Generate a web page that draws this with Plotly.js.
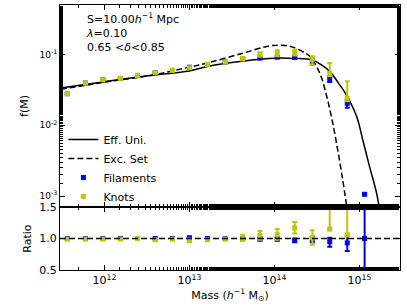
<!DOCTYPE html>
<html><head><meta charset="utf-8">
<script src="https://cdn.plot.ly/plotly-3.0.1.min.js"></script>
<style>html,body{margin:0;padding:0;background:#fff}#chart{width:407px;height:308px}</style>
</head><body><div id="chart"></div>
<script>
// Binned halo masses (h^-1 Msun)
const mass = [3.66e11, 5.98e11, 9.55e11, 1.54e12, 2.45e12, 3.96e12, 6.32e12, 1.0e13, 1.63e13, 2.64e13, 4.23e13, 6.75e13, 1.08e14, 1.73e14, 2.79e14, 4.47e14, 7.19e14, 1.15e15];
// Knots f(M)
const knotF     = [0.0279, 0.0394, 0.0440, 0.0459, 0.0506, 0.0552, 0.0596, 0.0649, 0.0723, 0.0780, 0.0870, 0.1000, 0.1050, 0.1070, 0.0850, 0.0540, 0.0240, null];
const knotErrUp = [0.0008, 0.0010, 0.0010, 0.0010, 0.0012, 0.0013, 0.0015, 0.0018, 0.0020, 0.0025, 0.0040, 0.0077, 0.0100, 0.0106, 0.0096, 0.0220, 0.0180, null];
const knotErrDn = [0.0008, 0.0010, 0.0010, 0.0010, 0.0012, 0.0013, 0.0015, 0.0018, 0.0020, 0.0025, 0.0040, 0.0072, 0.0104, 0.0102, 0.0127, 0.0042, 0.0022, null];
// Filaments f(M)
const filF      = [0.0279, 0.0394, 0.0440, 0.0459, 0.0506, 0.0552, 0.0596, 0.0660, 0.0723, 0.0780, 0.0865, 0.0887, 0.0916, 0.0907, 0.0797, 0.0452, 0.0204, 0.00106];
const filErrUp  = [0.0005, 0.0006, 0.0006, 0.0006, 0.0007, 0.0008, 0.0009, 0.0012, 0.0012, 0.0014, 0.0016, 0.0020, 0.0022, 0.0025, 0.0073, 0.0043, 0.0028, 0.00004];
const filErrDn  = [0.0005, 0.0006, 0.0006, 0.0006, 0.0007, 0.0008, 0.0009, 0.0012, 0.0012, 0.0014, 0.0016, 0.0020, 0.0022, 0.0025, 0.0074, 0.0044, 0.0027, 0.00004];
// Ratio panel
const knotRatio   = [0.99, 0.99, 0.99, 0.99, 1.00, 0.98, 0.99, 0.97, 0.98, 0.99, 1.01, 1.05, 1.06, 1.17, 1.01, 1.15, 1.06, null];
const knotRatioUp = [0.01, 0.01, 0.01, 0.01, 0.01, 0.012, 0.012, 0.03, 0.015, 0.02, 0.05, 0.07, 0.09, 0.09, 0.12, 0.60, 0.60, null];
const knotRatioDn = [0.01, 0.01, 0.01, 0.01, 0.01, 0.012, 0.012, 0.03, 0.015, 0.02, 0.05, 0.07, 0.08, 0.09, 0.11, 0.02, 0.02, null];
const filRatio    = [1.00, 1.00, 1.00, 1.00, 1.00, 1.00, 1.00, 1.01, 1.00, 1.00, 1.00, 0.99, 0.99, 0.97, 0.99, 0.95, 0.93, 1.00];
const filRatioUp  = [0.005, 0.005, 0.005, 0.005, 0.005, 0.006, 0.008, 0.02, 0.01, 0.015, 0.01, 0.02, 0.02, 0.03, 0.04, 0.06, 0.11, 0.80];
const filRatioDn  = [0.005, 0.005, 0.005, 0.005, 0.005, 0.006, 0.008, 0.02, 0.01, 0.015, 0.01, 0.02, 0.02, 0.03, 0.05, 0.08, 0.13, 0.80];
// Theory curves
const effMass = [3.05e11, 1.0e12, 3.46e12, 9.9e12, 1.66e13, 4.15e13, 1.01e14, 1.73e14, 2.82e14, 3.5e14, 4.47e14, 5.69e14, 7.06e14, 9.25e14, 1.09e15, 1.31e15, 1.58e15, 1.70e15];
const effF    = [0.0337, 0.0412, 0.0506, 0.0586, 0.0684, 0.0805, 0.0887, 0.0879, 0.0832, 0.0723, 0.0577, 0.0391, 0.0265, 0.0134, 0.00635, 0.00265, 0.00114, 0.000724];
const excMass = [3.05e11, 1.0e12, 3.46e12, 8.91e12, 1.66e13, 4.15e13, 8.38e13, 1.22e14, 1.60e14, 2.27e14, 2.60e14, 3.40e14, 4.11e14, 4.84e14, 5.53e14, 6.34e14, 7.06e14];
const excF    = [0.0321, 0.0406, 0.0506, 0.0641, 0.0764, 0.1033, 0.131, 0.135, 0.128, 0.1057, 0.0946, 0.0552, 0.0259, 0.0109, 0.00459, 0.00173, 0.00073];

const yellow = 'rgb(196,196,0)';
const blue = 'rgb(0,0,255)';
const F = 'DejaVu Sans, sans-serif';

function eb(up, dn, col){ return {type:'data', symmetric:false, array:up, arrayminus:dn, color:col, thickness:2, width:2.5}; }

const traces = [
  {x: effMass, y: effF, mode:'lines', line:{color:'black', width:1.5, shape:'spline'}, name:'Eff. Uni.', xaxis:'x', yaxis:'y'},
  {x: excMass, y: excF, mode:'lines', line:{color:'black', width:1.5, dash:'6px,3px', shape:'spline'}, name:'Exc. Set', xaxis:'x', yaxis:'y'},
  {x: mass, y: filF, mode:'markers', marker:{symbol:'square', size:5, color:blue}, error_y: eb(filErrUp, filErrDn, blue), name:'Filaments', xaxis:'x', yaxis:'y'},
  {x: mass, y: knotF, mode:'markers', marker:{symbol:'square', size:5, color:yellow}, error_y: eb(knotErrUp, knotErrDn, yellow), name:'Knots', xaxis:'x', yaxis:'y'},
  {x: mass, y: filRatio, mode:'markers', marker:{symbol:'square', size:5, color:blue}, error_y: eb(filRatioUp, filRatioDn, blue), showlegend:false, xaxis:'x2', yaxis:'y2'},
  {x: mass, y: knotRatio, mode:'markers', marker:{symbol:'square', size:5, color:yellow}, error_y: eb(knotRatioUp, knotRatioDn, yellow), showlegend:false, xaxis:'x2', yaxis:'y2'}
];

const xr = [Math.log10(3e11), Math.log10(3e15)];
const xTicks = [1e12, 1e13, 1e14, 1e15];
const xTickText = ['10<sup>12</sup>', '10<sup>13</sup>', '10<sup>14</sup>', '10<sup>15</sup>'];
const yTicks = [1e-3, 1e-2, 1e-1];
const yTickText = ['10<sup>-3</sup>', '10<sup>-2</sup>', '10<sup>-1</sup>'];
const split = 63/265;

const axCommon = {showline:true, linecolor:'black', linewidth:1, mirror:'ticks', ticks:'inside', ticklen:5, tickcolor:'black', showgrid:false, zeroline:false};

const layout = {
  width:407, height:308,
  margin:{l:60, r:7, t:5, b:38},
  paper_bgcolor:'white', plot_bgcolor:'white',
  font:{family:F, size:11, color:'black'},
  showlegend:true,
  legend:{x:0.01, y:split-0.015, xanchor:'left', yanchor:'bottom', bgcolor:'rgba(0,0,0,0)', font:{size:11}, itemwidth:30, tracegroupgap:0},
  xaxis: Object.assign({}, axCommon, {type:'log', range:xr, domain:[0,1], anchor:'y', showticklabels:false, tickvals:xTicks,
         minor:{ticks:'inside', ticklen:3, tickcolor:'black', showgrid:false}}),
  yaxis: Object.assign({}, axCommon, {type:'log', range:[Math.log10(7e-4), Math.log10(0.5)], domain:[split,1], anchor:'x',
         tickvals:yTicks, ticktext:yTickText, tickfont:{size:9}, minor:{ticks:'inside', ticklen:3, tickcolor:'black', showgrid:false},
         title:{text:'f(M)', font:{size:11}, standoff:8}}),
  xaxis2: Object.assign({}, axCommon, {type:'log', range:xr, domain:[0,1], anchor:'y2', matches:'x', tickvals:xTicks, ticktext:xTickText,
         tickfont:{size:11}, minor:{ticks:'inside', ticklen:3, tickcolor:'black', showgrid:false},
         title:{text:'Mass (<i>h</i><sup>−1</sup> M<sub>⊙</sub>)', font:{size:11}, standoff:3}}),
  yaxis2: Object.assign({}, axCommon, {range:[0.5,1.5], domain:[0,split], anchor:'x2', tickvals:[0.5,1.0,1.5], ticktext:['0.5','1.0','1.5'],
         tickfont:{size:11}, title:{text:'Ratio', font:{size:11}, standoff:5}}),
  shapes:[{type:'line', xref:'x2 domain', yref:'y2', x0:0, x1:1, y0:1, y1:1, line:{color:'black', width:1.5, dash:'6px,3px'}, layer:'above'}],
  annotations:[
    {xref:'paper', yref:'paper', x:0.07, y:0.985, xanchor:'left', yanchor:'top', showarrow:false, align:'left',
     text:'S=10.00<i>h</i><sup>−1</sup> Mpc<br><i>λ</i>=0.10<br>0.65 &lt;<i>δ</i>&lt;0.85', font:{size:11}}
  ]
};

Plotly.newPlot('chart', traces, layout, {displayModeBar:false, staticPlot:true});
</script></body></html>
